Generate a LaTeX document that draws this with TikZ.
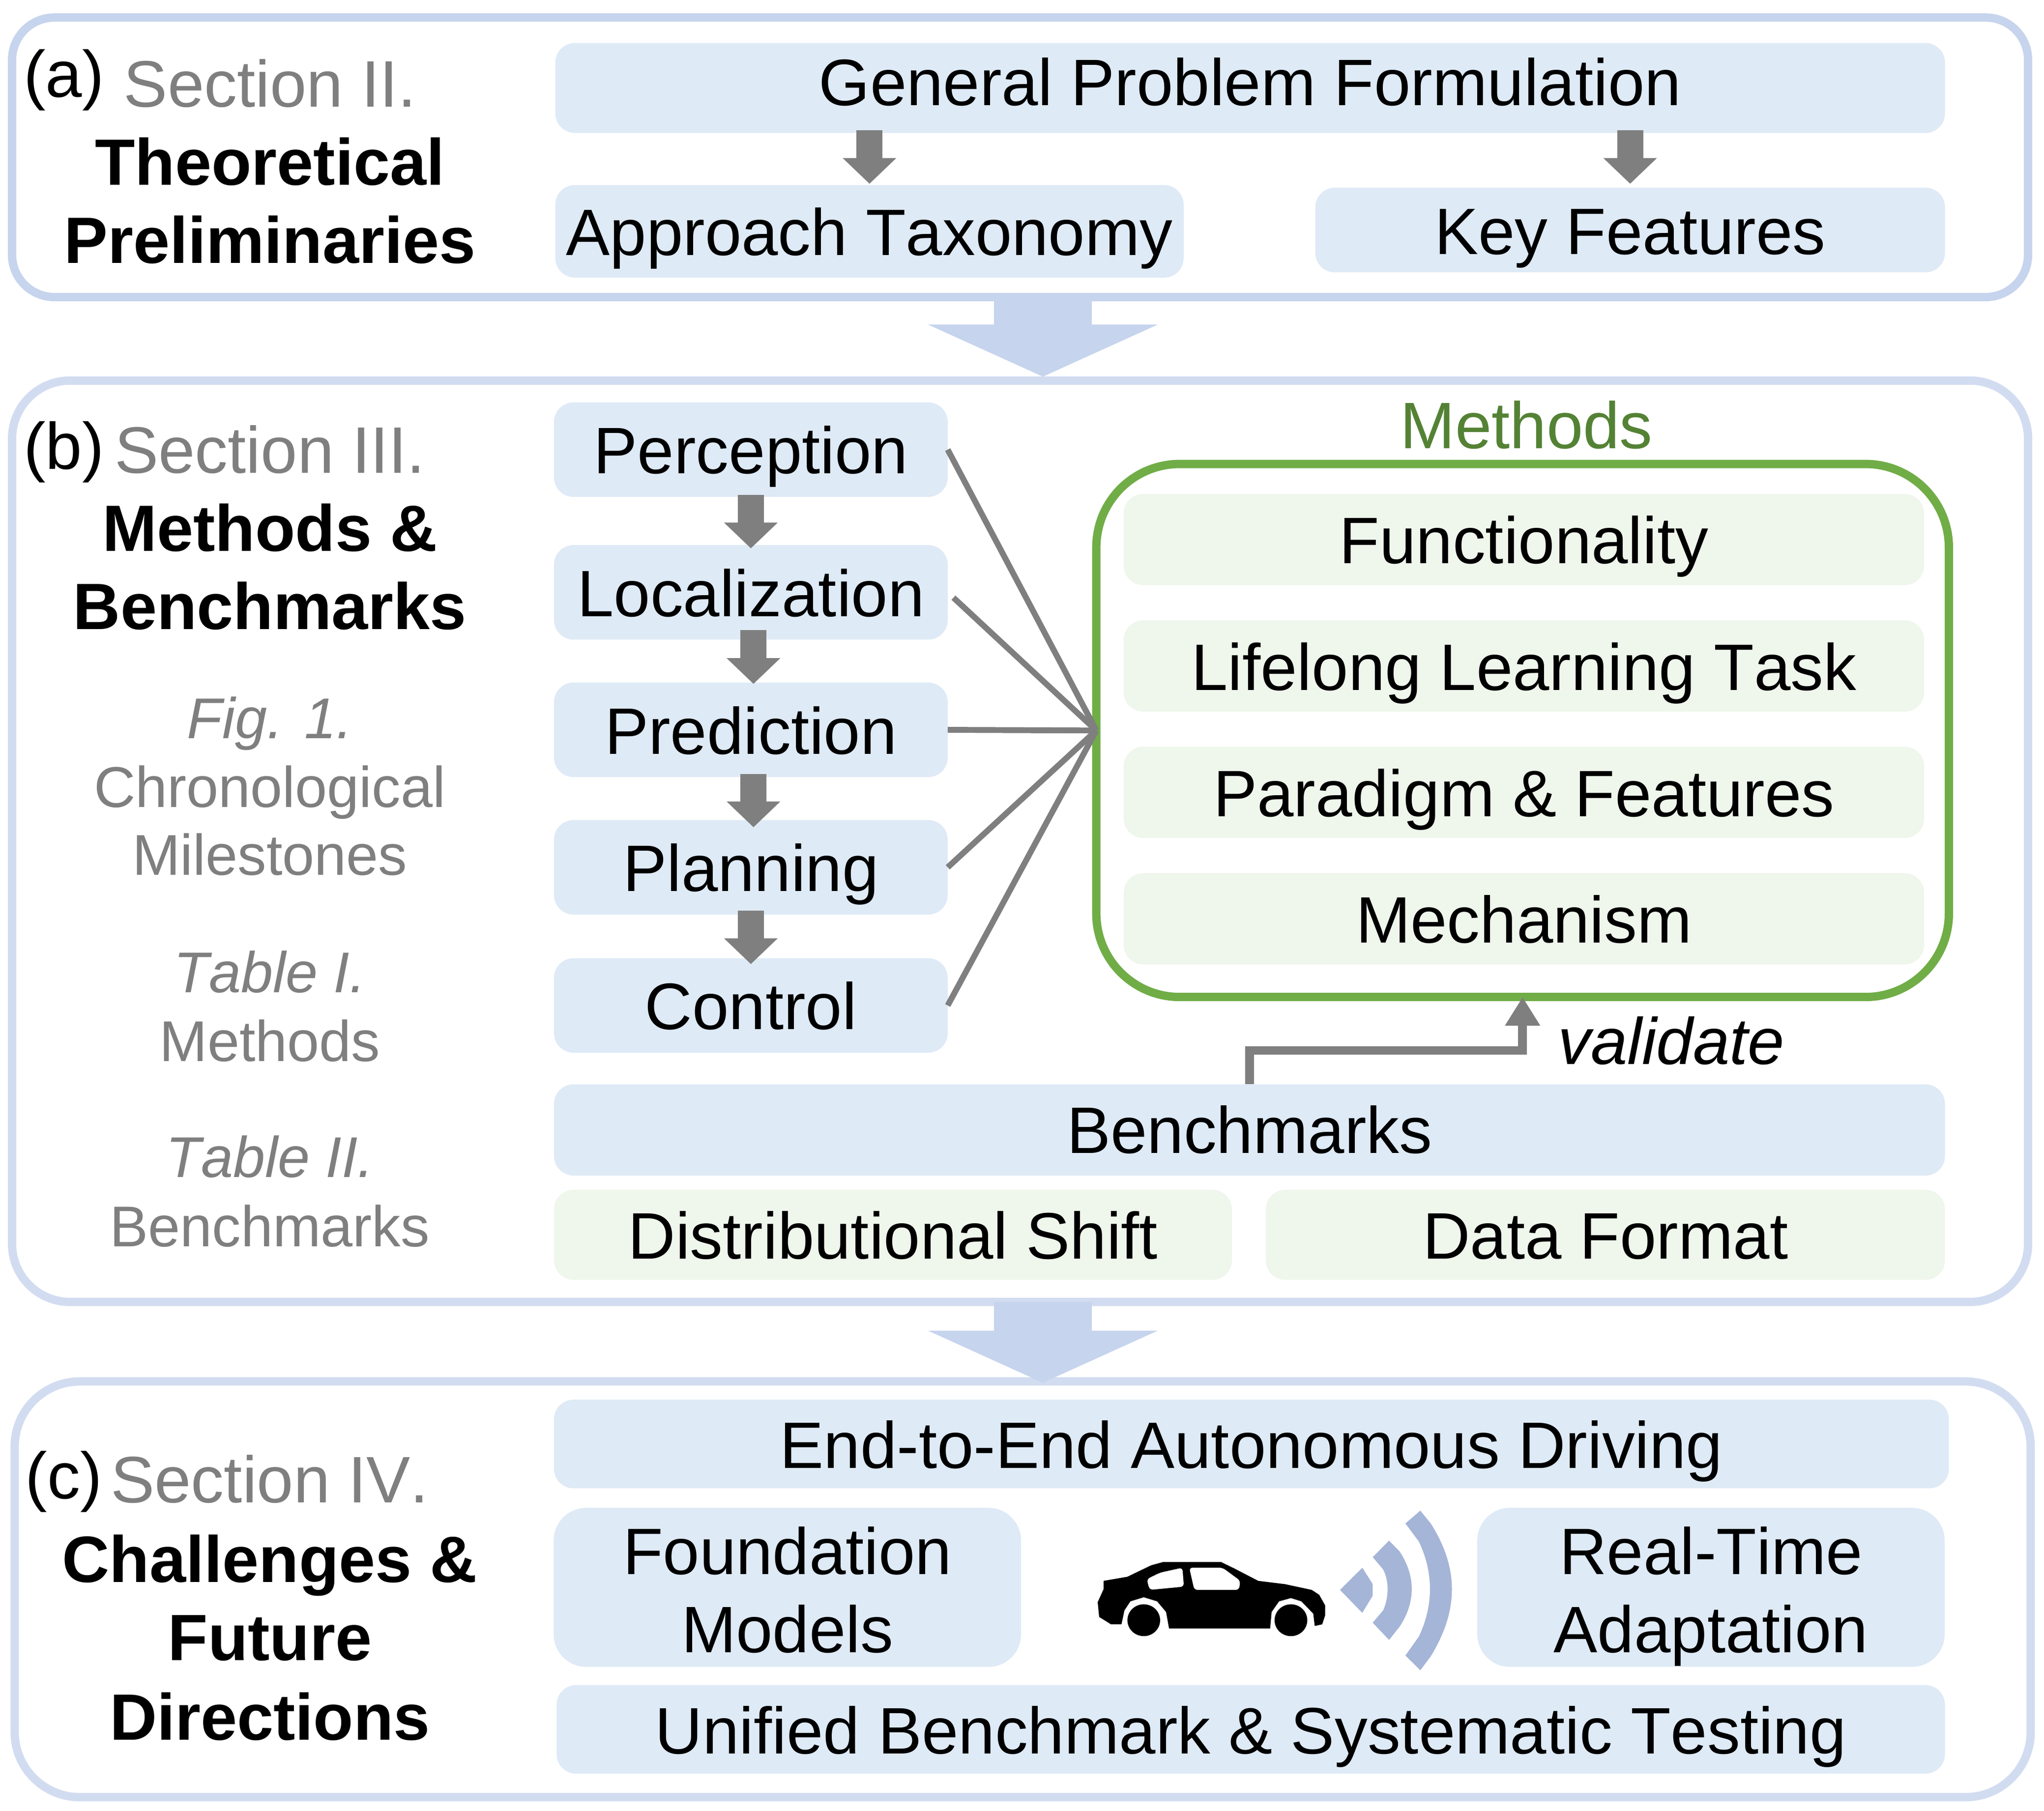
\documentclass[tikz,border=0pt]{standalone}
\usepackage{fontspec}
\setmainfont[Kerning=Off]{Liberation Sans}
\usepackage{xcolor}
\usetikzlibrary{arrows.meta, positioning}
\definecolor{panelaline}{HTML}{C6D4ED}
\definecolor{panelline}{HTML}{D2DCF1}
\definecolor{bigblue}{HTML}{C6D4ED}
\definecolor{boxblue}{HTML}{DEEAF6}
\definecolor{boxgreen}{HTML}{EFF6EC}
\definecolor{methodgreen}{HTML}{70AD47}
\definecolor{titlegreen}{HTML}{548235}
\definecolor{linegray}{HTML}{7F7F7F}
\definecolor{wavecolor}{HTML}{A5B5D7}
\newcommand{\mainsize}{\fontsize{28.7}{34.1}\selectfont}
\newcommand{\graysize}{\fontsize{25.1}{30}\selectfont}
\newcommand{\topstrut}{\rule{0pt}{1.02cm}}
\newcommand{\botstrut}{\rule[-0.22cm]{0pt}{0.1cm}}

\begin{document}
\begin{tikzpicture}[every node/.style={font=\mainsize, inner sep=0pt, outer sep=0pt}]
    % Define styles
    \tikzstyle{panel} = [rectangle, minimum width=30.93cm, draw=panelline, line width=0.128cm, fill=white]
    \tikzstyle{bluebox} = [rectangle, rounded corners=0.3cm, text centered, fill=boxblue, text height=0.92cm, text depth=0.18cm]
    \tikzstyle{greenbox} = [rectangle, rounded corners=0.3cm, text centered, fill=boxgreen, text height=0.92cm, text depth=0.18cm]
    \tikzstyle{twoline} = [rectangle, rounded corners=0.5cm, align=center, fill=boxblue, minimum width=7.17cm, minimum height=2.44cm]
    \tikzstyle{stage} = [bluebox, minimum width=6.04cm, minimum height=1.45cm]
    \tikzstyle{methodrow} = [greenbox, minimum width=12.28cm, minimum height=1.40cm]
    \tikzstyle{tag} = [text=black, text height=0.88cm, text depth=0.2cm]
    \tikzstyle{section} = [tag, text=linegray, anchor=west]
    \tikzstyle{heading} = [tag, font=\fontsize{28.6}{34.1}\selectfont\bfseries]
    \tikzstyle{note} = [tag, text=linegray, font=\graysize, text height=0.82cm, text depth=0.2cm]
    \tikzstyle{bigarrow} = [bigblue, line width=1.5cm, -{Triangle[width=3.5cm, length=0.8cm]}]
    \tikzstyle{blockarrow} = [linegray, line width=0.40cm, -{Triangle[width=0.8cm, length=0.395cm]}]
    \tikzstyle{spoke} = [linegray, line width=0.09cm]
    \tikzstyle{arrow} = [linegray, line width=0.134cm, -{Triangle[width=0.51cm, length=0.44cm]}]

    \useasboundingbox (0, 0) rectangle (31.36, -27.79);

    % Outer panels
    \node (panela) [panel, draw=panelaline, rounded corners=0.65cm, minimum height=4.29cm] at (15.65, -2.414) {};
    \node (panelb) [panel, rounded corners=0.89cm, minimum height=14.14cm] at (15.65, -12.91) {};
    \node (panelc) [panel, rounded corners=1cm, minimum height=6.38cm] at (15.69, -24.39) {};

    % Arrows between panels
    \draw [bigarrow, shorten >=0.06cm] ([xshift=0.35cm]panela.south) -- ([xshift=0.35cm]panelb.north);
    \draw [bigarrow, shorten >=-0.02cm] ([xshift=0.35cm]panelb.south) -- ([xshift=0.35cm]panelb.south |- panelc.north);

    % Left column: panel a
    \node (taga) [tag] at (0.98, -1.15) {(a)};
    \node (sectiona) [section] at (1.90, -1.30) {Section II.};
    \node (theoretical) [heading] at (4.14, -2.50) {Theoretical};
    \node (preliminaries) [heading] at (4.14, -3.70) {Preliminaries};

    % Left column: panel b
    \node (tagb) [tag] at (0.98, -6.86) {(b)};
    \node (sectionb) [section] at (1.76, -6.92) {Section III.};
    \node (methodshead) [heading] at (4.14, -8.12) {Methods \&};
    \node (benchhead) [heading] at (4.14, -9.32) {Benchmarks};
    \node (figone) [note] at (4.14, -11.02) {\itshape Fig. 1.};
    \node (chrono) [note] at (4.14, -12.08) {Chronological};
    \node (milestones) [note] at (4.14, -13.12) {Milestones};
    \node (tableone) [note] at (4.14, -14.92) {\itshape Table I.};
    \node (tableonetext) [note] at (4.14, -15.98) {Methods};
    \node (tabletwo) [note] at (4.14, -17.76) {\itshape Table II.};
    \node (tabletwotext) [note] at (4.14, -18.82) {Benchmarks};

    % Left column: panel c
    \node (tagc) [tag] at (0.98, -22.66) {(c)};
    \node (sectionc) [section] at (1.70, -22.72) {Section IV.};
    \node (challenges) [heading] at (4.14, -23.94) {Challenges \&};
    \node (future) [heading] at (4.14, -25.14) {Future};
    \node (directions) [heading] at (4.14, -26.36) {Directions};

    % Panel a boxes
    \node (formulation) [bluebox, text depth=0.38cm, minimum width=21.32cm, minimum height=1.38cm] at (19.18, -1.35) {General Problem Formulation};
    \node (taxonomy) [bluebox, minimum width=9.64cm, minimum height=1.42cm] at (13.34, -3.55) {Approach Taxonomy};
    \node (features) [bluebox, minimum width=9.66cm, minimum height=1.30cm] at (25.01, -3.53) {Key Features};
    \draw [blockarrow, shorten <=-0.04cm, shorten >=0.02cm] (formulation.south -| taxonomy) -- (taxonomy.north);
    \draw [blockarrow, shorten <=-0.04cm, shorten >=0.06cm] (formulation.south -| features) -- (features.north);

    % Panel b: pipeline stages
    \node (perception) [stage] at (11.52, -6.90) {Perception};
    \node (localization) [stage] at (11.52, -9.09) {Localization};
    \node (prediction) [stage] at (11.52, -11.20) {Prediction};
    \node (planning) [stage] at (11.52, -13.31) {Planning};
    \node (control) [stage] at (11.52, -15.43) {Control};
    \draw [blockarrow, shorten <=-0.03cm, shorten >=-0.05cm] (perception) -- (localization);
    \draw [blockarrow, shorten <=-0.147cm, shorten >=-0.02cm] ([xshift=0.04cm]localization.south) -- ([xshift=0.04cm]prediction.north);
    \draw [blockarrow, shorten <=-0.05cm, shorten >=-0.11cm] ([xshift=0.04cm]prediction.south) -- ([xshift=0.04cm]planning.north);
    \draw [blockarrow, shorten <=-0.06cm, shorten >=-0.09cm] (planning) -- (control);

    % Panel b: methods box
    \node (methodbox) [rectangle, rounded corners=1.28cm, draw=methodgreen, line width=0.128cm, minimum width=13.08cm, minimum height=8.18cm] at (23.36, -11.21) {};
    \node (methodtitle) [tag, text=titlegreen] at (23.42, -6.54) {Methods};
    \node (functionality) [methodrow] at (23.38, -8.28) {Functionality};
    \node (lifelong) [methodrow] at (23.38, -10.22) {Lifelong Learning Task};
    \node (paradigm) [methodrow] at (23.38, -12.16) {Paradigm \& Features};
    \node (mechanism) [methodrow] at (23.38, -14.10) {Mechanism};

    % Stages to methods
    \draw [spoke] (perception.east) -- (methodbox.west);
    \draw [spoke, shorten <=0.12cm] (localization.east) -- (methodbox.west);
    \draw [spoke] (prediction.east) -- (methodbox.west);
    \draw [spoke] (planning.east) -- (methodbox.west);
    \draw [spoke] (control.east) -- (methodbox.west);

    % Panel b: benchmarks
    \node (benchmarks) [bluebox, text depth=0.2cm, minimum width=21.34cm, minimum height=1.40cm] at (19.17, -17.34) {Benchmarks};
    \node (shift) [greenbox, minimum width=10.40cm, minimum height=1.38cm] at (13.70, -18.95) {Distributional Shift};
    \node (format) [greenbox, minimum width=10.42cm, minimum height=1.38cm] at (24.63, -18.95) {Data Format};
    \draw [arrow] (benchmarks.north) -- ++(0, 0.52) -| (methodbox.south);
    \node (validate) [tag] at (25.64, -15.99) {\itshape validate};

    % Panel c boxes
    \node (endtoend) [bluebox, minimum width=21.40cm, minimum height=1.36cm] at (19.20, -22.16) {End-to-End Autonomous Driving};
    \node (foundation) [twoline] at (12.08, -24.36) {\topstrut Foundation\\Models\botstrut};
    \node (realtime) [twoline] at (26.25, -24.36) {\topstrut Real-Time\\Adaptation\botstrut};
    \node (unified) [bluebox, minimum width=21.30cm, minimum height=1.36cm] at (19.19, -26.54) {Unified Benchmark \& Systematic Testing};

    % Car and signal
    \begin{scope}[shift={(15.837, -22.624)}, x=0.00457cm, y=-0.002514cm]
        \fill [black] (240,650) -- (320,625) -- (400,555) -- (440,535) -- (635,535) -- (680,575) -- (760,650) -- (850,670) -- (940,705) -- (965,735) -- (985,800) -- (985,860) -- (975,915) -- (950,925) -- (945,850) -- (905,775) -- (870,755) -- (830,775) -- (805,840) -- (800,940) -- (460,940) -- (450,840) -- (420,775) -- (375,750) -- (330,775) -- (310,830) -- (300,915) -- (265,915) -- (225,870) -- (220,780) -- (240,700) -- cycle;
        \fill [white, rounded corners=0.05cm] (385,640) -- (430,600) -- (505,570) -- (510,685) -- (395,705) -- cycle;
        \fill [white, rounded corners=0.05cm] (528,570) -- (640,570) -- (700,650) -- (695,705) -- (545,705) -- cycle;
        \fill [black] (375,890) ellipse [x radius=55, y radius=97];
        \fill [black] (870,890) ellipse [x radius=55, y radius=97];
        \fill [wavecolor] (1035,705) -- (1110,570) -- (1145,670) -- (1145,740) -- (1110,845) -- cycle;
        \fill [wavecolor] (1145,505) -- (1200,405) -- (1235,470) .. controls (1290,620) and (1290,780) .. (1235,930) -- (1200,1010) -- (1145,905) -- (1180,830) .. controls (1200,750) and (1200,650) .. (1180,580) -- cycle;
        \fill [wavecolor] (1255,300) -- (1305,222) -- (1340,300) .. controls (1435,570) and (1435,830) .. (1340,1110) -- (1305,1195) -- (1255,1105) -- (1300,990) .. controls (1350,800) and (1350,600) .. (1300,410) -- cycle;
    \end{scope}
\end{tikzpicture}
\end{document}
